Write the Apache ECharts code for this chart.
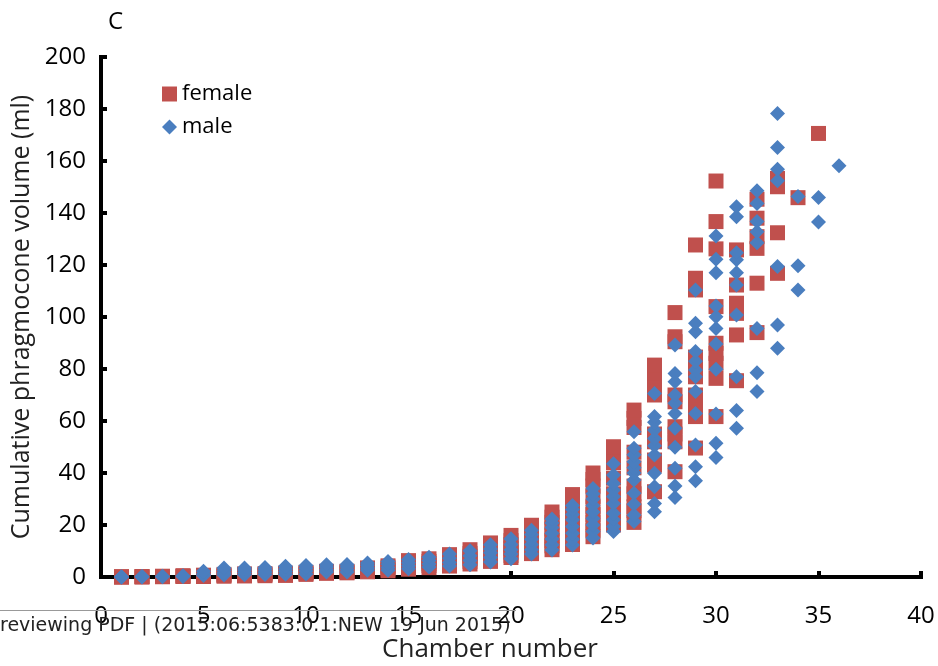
<!DOCTYPE html>
<html>
<head>
<meta charset="utf-8">
<script src="https://cdn.jsdelivr.net/npm/echarts@6/dist/echarts.min.js"></script>
<style>
  html, body { margin: 0; padding: 0; background: #fff; }
  #chart { width: 938px; height: 666px; }
</style>
</head>
<body>
<div id="chart"></div>
<script>
// Chamber numbers along the shell
const chambers = [1, 2, 3, 4, 5, 6, 7, 8, 9, 10, 11, 12, 13, 14, 15, 16, 17, 18,
  19, 20, 21, 22, 23, 24, 25, 26, 27, 28, 29, 30, 31, 32, 33, 34, 35, 36];

// Cumulative phragmocone volume (ml) of female specimens, one list per chamber
const femaleVolumes = [
  [0, 0, 0.1], [0, 0.1, 0.2], [0.1, 0.2, 0.3], [0.2, 0.3, 0.5],
  [0.2, 0.4, 0.7], [0.3, 0.6, 1.0], [0.4, 0.8, 1.2], [0.5, 0.9, 1.3],
  [0.6, 1.0, 1.5], [1.0, 1.4, 1.8], [1.4, 1.8, 2.2], [1.6, 1.9, 2.2],
  [2.0, 2.6, 3.1, 3.5], [2.4, 3.1, 3.8, 4.3], [3.0, 3.8, 4.6, 5.4, 6.3],
  [3.6, 4.4, 5.2, 6.0, 7.0], [4.2, 5.0, 6.0, 7.0, 8.6], [5.0, 6.0, 7.0, 8.0, 9.0, 10.5],
  [6.0, 7.0, 8.0, 9.5, 11.0, 12.0, 13.1], [7.5, 8.3, 9.5, 11.0, 12.5, 14.0, 16.0],
  [9.0, 10.0, 11.5, 13.0, 15.0, 17.0, 18.7, 19.9], [10.5, 12.0, 14.0, 16.0, 18.5, 21.0, 23.0, 25.0],
  [12.5, 14.5, 17.0, 19.5, 22.5, 25.5, 29.0, 31.7], [15.5, 18.0, 21.0, 24.0, 27.0, 31.0, 35.0, 37.5, 40.0],
  [20.0, 22.5, 26.0, 29.0, 32.0, 38.0, 44.0, 47.1, 50.1], [21.0, 25.5, 27.0, 32.0, 35.0, 42.0, 48.0, 57.5, 61.0, 64.2],
  [32.8, 43.0, 45.0, 52.0, 55.0, 70.0, 74.5, 78.3, 81.5], [40.5, 52.0, 55.0, 57.8, 67.4, 70.0, 90.5, 92.4, 101.7],
  [49.6, 61.7, 66.8, 70.0, 77.0, 82.2, 84.6, 110.4, 114.9, 127.7],
  [61.7, 76.4, 82.2, 86.0, 89.9, 104.0, 126.2, 136.7, 152.3],
  [75.5, 93.1, 101.4, 105.3, 112.3, 125.8], [94.0, 113.0, 126.4, 130.9, 138.0, 145.3],
  [116.8, 132.4, 150.1, 153.3], [145.9], [170.6], []
];

// Cumulative phragmocone volume (ml) of male specimens, one list per chamber
const maleVolumes = [
  [0, 0, 0.1], [0, 0.1, 0.2], [0.1, 0.2, 0.3], [0.2, 0.3, 0.5],
  [0.6, 1.2, 2.2], [0.8, 1.5, 2.5, 3.5], [0.9, 1.7, 2.7, 3.5], [1.0, 1.9, 2.9, 3.7],
  [1.1, 2.1, 3.1, 4.1], [1.2, 2.3, 3.4, 4.4], [1.9, 2.8, 3.8, 4.7], [1.9, 2.9, 3.9, 4.8],
  [2.6, 3.5, 4.5, 5.4], [2.6, 3.7, 4.9, 6.0], [3.2, 4.3, 5.5, 6.7], [3.8, 5.0, 6.3, 7.6],
  [4.2, 5.6, 7.2, 8.8], [4.7, 6.3, 8.2, 10.1], [5.8, 7.5, 9.3, 10.8, 12.4],
  [7.0, 8.8, 10.5, 12.5, 14.7], [8.8, 10.5, 12.5, 14.5, 16.3, 18.0],
  [10.4, 12.4, 14.6, 16.8, 19.0, 20.8, 22.3], [12.3, 14.5, 16.8, 19.4, 22.0, 24.0, 26.0, 27.5],
  [15.0, 17.5, 20.0, 22.5, 25.0, 27.5, 30.0, 32.0, 34.0],
  [17.5, 19.4, 22.0, 24.5, 28.3, 31.0, 33.5, 36.0, 39.2, 43.6],
  [21.3, 23.8, 28.0, 32.2, 37.3, 40.0, 42.0, 44.3, 47.0, 49.5, 55.9],
  [25.1, 28.3, 34.7, 39.9, 46.9, 50.5, 53.3, 56.5, 59.5, 61.7, 70.6],
  [30.6, 35.0, 41.8, 49.9, 57.2, 62.9, 66.8, 70.0, 75.1, 78.3, 89.2],
  [37.0, 42.4, 50.8, 62.9, 71.3, 77.0, 79.6, 83.0, 86.7, 94.3, 97.6, 110.4],
  [46.0, 51.4, 62.7, 79.9, 89.6, 95.6, 100.1, 104.2, 117.0, 122.2, 131.2],
  [57.2, 64.0, 77.0, 100.8, 112.3, 117.0, 122.0, 124.7, 138.6, 142.4],
  [71.3, 78.6, 95.6, 128.6, 132.8, 136.7, 143.7, 148.6],
  [88.0, 96.9, 119.4, 152.4, 156.8, 165.2, 178.3],
  [110.4, 119.7, 146.3], [136.5, 146.0], [158.2]
];

const xTicks = [0, 5, 10, 15, 20, 25, 30, 35, 40];
const yTicks = [0, 20, 40, 60, 80, 100, 120, 140, 160, 180, 200];

// Expand per-chamber lists into [chamber, volume] points
function toPoints(lists) {
  const pts = [];
  chambers.forEach((c, i) => (lists[i] || []).forEach(v => pts.push([c, v])));
  return pts;
}

const FONT = '"Open Sans", "Noto Sans", sans-serif';
const chart = echarts.init(document.getElementById('chart'), null, { renderer: 'canvas' });

const axisCommon = {
  axisLine: { show: true, onZero: false, lineStyle: { color: '#000', width: 4, cap: 'square' } },
  axisTick: { show: true, inside: true, length: 6, lineStyle: { color: '#000', width: 4 } },
  splitLine: { show: false },
  axisLabel: { color: '#000', fontSize: 24, fontFamily: FONT }
};

chart.setOption({
  backgroundColor: '#fff',
  animation: false,
  grid: { left: 101, right: 17, top: 57, bottom: 89, containLabel: false, outerBoundsMode: 'none' },
  legend: {
    orient: 'vertical',
    left: 157,
    top: 78,
    itemWidth: 15,
    itemHeight: 15,
    itemGap: 11,
    textStyle: { color: '#000', fontSize: 22, fontFamily: FONT },
    data: ['female', 'male']
  },
  xAxis: Object.assign({}, axisCommon, {
    type: 'value',
    min: xTicks[0],
    max: xTicks[xTicks.length - 1],
    interval: 5,
    name: 'Chamber number',
    nameLocation: 'middle',
    nameGap: 60,
    nameTextStyle: { color: '#222', fontSize: 26, fontFamily: FONT, padding: [0, 42, 0, 0] },
    axisLabel: Object.assign({}, axisCommon.axisLabel, { margin: 27 })
  }),
  yAxis: Object.assign({}, axisCommon, {
    type: 'value',
    min: yTicks[0],
    max: yTicks[yTicks.length - 1],
    interval: 20,
    name: 'Cumulative phragmocone volume (ml)',
    nameLocation: 'middle',
    nameGap: 61,
    nameTextStyle: { color: '#222', fontSize: 25, fontFamily: FONT },
    axisLabel: Object.assign({}, axisCommon.axisLabel, { margin: 15 })
  }),
  series: [
    {
      name: 'female',
      type: 'scatter',
      symbol: 'rect',
      symbolSize: 15,
      itemStyle: { color: '#C0504D', opacity: 1 },
      data: toPoints(femaleVolumes)
    },
    {
      name: 'male',
      type: 'scatter',
      symbol: 'diamond',
      symbolSize: 15,
      itemStyle: { color: '#4A7EBF', opacity: 1 },
      data: toPoints(maleVolumes)
    }
  ],
  graphic: [
    {
      type: 'text', left: 108, top: 10, z: 10,
      style: { text: 'C', fontSize: 24, fontFamily: FONT, fill: '#000' }
    },
    {
      type: 'line', z: 20,
      shape: { x1: 0, y1: 610.5, x2: 516, y2: 610.5 },
      style: { stroke: '#999', lineWidth: 1 }
    },
    {
      type: 'text', left: 0, top: 617, z: 20,
      style: {
        text: 'reviewing PDF | (2015:06:5383:0.1:NEW 19 Jun 2015)',
        fontSize: 19, fontFamily: '"DejaVu Sans", sans-serif', fill: '#222'
      }
    }
  ]
});
</script>
</body>
</html>
